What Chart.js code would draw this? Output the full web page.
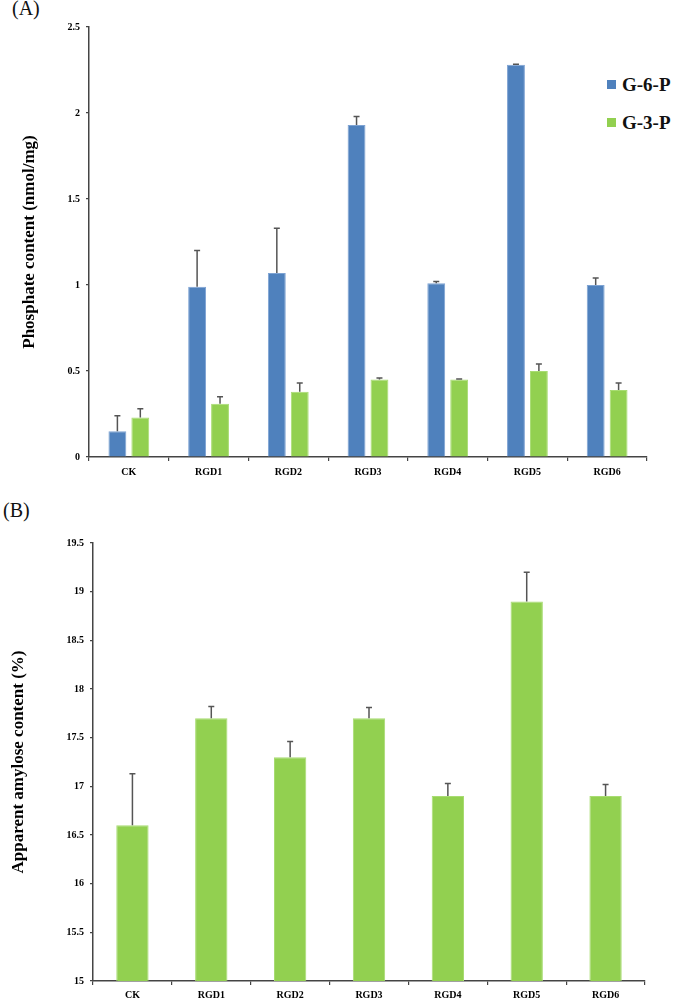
<!DOCTYPE html>
<html>
<head>
<meta charset="utf-8">
<script src="https://cdn.jsdelivr.net/npm/chart.js@4/dist/chart.umd.min.js"></script>
<style>
  body { margin: 0; background: #fff; width: 675px; height: 1003px; position: relative; overflow: hidden;
         font-family: "Liberation Serif", "Times New Roman", serif; }
  .panel { position: absolute; left: 0; }
  .tag { position: absolute; font-size: 20px; color: #111; }
  .leg { position: absolute; left: 607px; font-size: 19px; font-weight: bold; color: #111; line-height: 20px; }
  .leg span { display: inline-block; width: 9px; height: 9px; margin-right: 6px; vertical-align: 2px; }
</style>
</head>
<body>
<div class="tag" style="left:12px; top:-3px;">(A)</div>
<div class="tag" style="left:3px; top:499px;">(B)</div>
<div class="leg" style="top:75px;"><span style="background:#4F81BD"></span>G-6-P</div>
<div class="leg" style="top:113px;"><span style="background:#92D050"></span>G-3-P</div>

<canvas id="chartA" class="panel" style="top:0px;" width="675" height="480"></canvas>
<canvas id="chartB" class="panel" style="top:480px;" width="675" height="523"></canvas>

<script>
// categories and values
const categories = ['CK', 'RGD1', 'RGD2', 'RGD3', 'RGD4', 'RGD5', 'RGD6'];

const g6pValues = [0.15, 0.99, 1.07, 1.93, 1.01, 2.28, 1.00];
const g6pErrors = [0.09, 0.21, 0.26, 0.05, 0.01, 0.003, 0.04];
const g3pValues = [0.23, 0.31, 0.38, 0.45, 0.45, 0.50, 0.39];
const g3pErrors = [0.05, 0.04, 0.05, 0.01, 0.003, 0.04, 0.04];

const amyloseValues = [16.6, 17.7, 17.3, 17.7, 16.9, 18.9, 16.9];
const amyloseErrors = [0.53, 0.12, 0.16, 0.11, 0.13, 0.30, 0.12];

const phosphateAxis = [0, 2.5, 0.5];   // min, max, step
const amyloseAxis = [15, 19.5, 0.5];

const serif = '"Liberation Serif", "Times New Roman", serif';
const axisColor = '#444';

// draws the upper error bar of every bar, from dataset.errors
const errorBars = {
  id: 'errorBars',
  afterDatasetsDraw(chart) {
    const ctx = chart.ctx;
    const yScale = chart.scales.y;
    ctx.save();
    ctx.strokeStyle = '#555';
    ctx.lineWidth = 1.5;
    chart.data.datasets.forEach((ds, i) => {
      const meta = chart.getDatasetMeta(i);
      meta.data.forEach((bar, j) => {
        const top = yScale.getPixelForValue(ds.data[j] + ds.errors[j]);
        ctx.beginPath();
        ctx.moveTo(bar.x, bar.y);
        ctx.lineTo(bar.x, top);
        ctx.moveTo(bar.x - 3, top);
        ctx.lineTo(bar.x + 3, top);
        ctx.stroke();
      });
    });
    ctx.restore();
  }
};

function axes(range, yTitle, yWidth, xHeight, titlePad, labelPad) {
  return {
    x: {
      afterFit(scale) { scale.height = xHeight; },
      grid: { drawOnChartArea: false, drawTicks: true, tickLength: 4, color: axisColor, lineWidth: 1.2 },
      border: { color: axisColor, width: 1.5 },
      ticks: { color: '#000', padding: labelPad, font: { family: serif, size: 10, weight: 'bold' } }
    },
    y: {
      min: range[0],
      max: range[1],
      afterFit(scale) { scale.width = yWidth; },
      grid: { drawOnChartArea: false, drawTicks: true, tickLength: 3, color: axisColor, lineWidth: 1.2 },
      border: { color: axisColor, width: 1.5 },
      ticks: {
        stepSize: range[2],
        color: '#000',
        padding: 6,
        font: { family: serif, size: 10, weight: 'bold' },
        callback: (v) => String(Math.round(v * 10) / 10)
      },
      title: {
        display: true,
        text: yTitle,
        color: '#000',
        padding: { top: titlePad, bottom: 0 },
        font: { family: serif, size: 17, weight: 'bold' }
      }
    }
  };
}

new Chart(document.getElementById('chartA'), {
  type: 'bar',
  data: {
    labels: categories,
    datasets: [
      {
        label: 'G-6-P',
        data: g6pValues,
        errors: g6pErrors,
        backgroundColor: '#4F81BD',
        borderColor: '#7EA3D3',
        borderWidth: 1,
        categoryPercentage: 0.575,
        barPercentage: 0.78
      },
      {
        label: 'G-3-P',
        data: g3pValues,
        errors: g3pErrors,
        backgroundColor: '#92D050',
        borderColor: '#A8DC72',
        borderWidth: 1,
        categoryPercentage: 0.575,
        barPercentage: 0.78
      }
    ]
  },
  options: {
    responsive: false,
    animation: false,
    layout: { padding: { top: 27, right: 28, left: 0, bottom: 0 } },
    plugins: { legend: { display: false }, tooltip: { enabled: false } },
    scales: axes(phosphateAxis, 'Phosphate content (nmol/mg)', 89, 23, 19, 5)
  },
  plugins: [errorBars]
});

new Chart(document.getElementById('chartB'), {
  type: 'bar',
  data: {
    labels: categories,
    datasets: [
      {
        label: 'Apparent amylose content',
        data: amyloseValues,
        errors: amyloseErrors,
        backgroundColor: '#92D050',
        borderColor: '#A8DC72',
        borderWidth: 1,
        categoryPercentage: 1,
        barPercentage: 0.41
      }
    ]
  },
  options: {
    responsive: false,
    animation: false,
    layout: { padding: { top: 63, right: 30, left: 0, bottom: 0 } },
    plugins: { legend: { display: false }, tooltip: { enabled: false } },
    scales: axes(amyloseAxis, 'Apparent amylose content (%)', 93, 22, 8, 4)
  },
  plugins: [errorBars]
});
</script>
</body>
</html>
